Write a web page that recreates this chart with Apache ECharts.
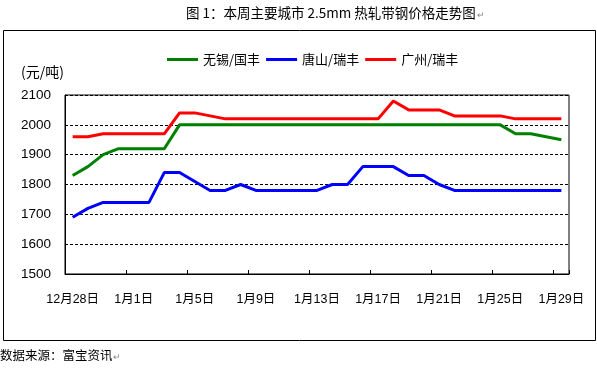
<!DOCTYPE html>
<html>
<head>
<meta charset="utf-8">
<script src="https://cdn.jsdelivr.net/npm/echarts@6/dist/echarts.min.js"></script>
<style>
html,body{margin:0;padding:0;background:#fff;}
#c{width:597px;height:368px;}
</style>
</head>
<body>
<div id="c"></div>
<script>
const categories = ['12月28日','12月29日','12月30日','12月31日','1月1日','1月2日','1月3日','1月4日','1月5日','1月6日','1月7日','1月8日','1月9日','1月10日','1月11日','1月12日','1月13日','1月14日','1月15日','1月16日','1月17日','1月18日','1月19日','1月20日','1月21日','1月22日','1月23日','1月24日','1月25日','1月26日','1月27日','1月28日','1月29日'];
const wuxi = [1830,1860,1900,1920,1920,1920,1920,2000,2000,2000,2000,2000,2000,2000,2000,2000,2000,2000,2000,2000,2000,2000,2000,2000,2000,2000,2000,2000,2000,1970,1970,1960,1950];
const tangshan = [1690,1720,1740,1740,1740,1740,1840,1840,1810,1780,1780,1800,1780,1780,1780,1780,1780,1800,1800,1860,1860,1860,1830,1830,1800,1780,1780,1780,1780,1780,1780,1780,1780];
const guangzhou = [1960,1960,1970,1970,1970,1970,1970,2040,2040,2030,2020,2020,2020,2020,2020,2020,2020,2020,2020,2020,2020,2080,2050,2050,2050,2030,2030,2030,2030,2020,2020,2020,2020];
const seriesNames = ['无锡/国丰','唐山/瑞丰','广州/瑞丰'];
const yTicks = {min:1500, max:2100, interval:100};

const FONT = '"Liberation Sans", Arial, "Noto Sans CJK SC", sans-serif';
const CJK = '"Noto Sans CJK SC", "Liberation Sans", sans-serif';

const chart = echarts.init(document.getElementById('c'), null, {renderer:'canvas'});
chart.setOption({
  animation:false,
  backgroundColor:'#fff',
  graphic:[
    {type:'rect', shape:{x:3.5,y:30.5,width:592,height:310}, style:{fill:'none',stroke:'#000',lineWidth:1}, silent:true},
    {type:'text', left:186, top:6, style:{text:'图 1：本周主要城市 2.5mm 热轧带钢价格走势图', font:'13.5px '+CJK, fill:'#000'}},
    {type:'text', left:477, top:10, style:{text:'↵', font:'9px '+CJK, fill:'#888'}},
    {type:'text', left:21, top:65, style:{text:'(元/吨)', font:'14px '+CJK, fill:'#000'}},
    {type:'text', left:0, top:349, style:{text:'数据来源：富宝资讯', font:'12.5px '+CJK, fill:'#000'}},
    {type:'text', left:113, top:352, style:{text:'↵', font:'9px '+CJK, fill:'#888'}}
  ],
  legend:{
    data:seriesNames,
    left:162, top:48,
    itemWidth:31, itemHeight:3, itemGap:6,
    icon:'rect',
    textStyle:{fontSize:13, fontFamily:CJK, color:'#000'}
  },
  grid:{left:65, right:28, top:95, bottom:94, show:true, borderColor:'#000', borderWidth:1, containLabel:false},
  xAxis:{
    type:'category', data:categories, boundaryGap:true,
    axisLine:{lineStyle:{color:'#000', width:1}},
    axisTick:{show:true, inside:true, length:4, interval:3, lineStyle:{color:'#000'}},
    axisLabel:{interval:3, fontSize:12.5, fontFamily:FONT, color:'#000', margin:19}
  },
  yAxis:{
    type:'value', min:yTicks.min, max:yTicks.max, interval:yTicks.interval,
    axisLine:{show:true, lineStyle:{color:'#000'}},
    axisTick:{show:false},
    axisLabel:{fontSize:13.5, fontFamily:FONT, color:'#000', margin:14, formatter:function(v){return String(v);}},
    splitLine:{show:true, lineStyle:{color:'#000', type:[3,2], width:1}}
  },
  series:[
    {name:seriesNames[0], type:'line', data:wuxi, symbol:'none', lineStyle:{width:3, color:'#008000'}, itemStyle:{color:'#008000'}},
    {name:seriesNames[1], type:'line', data:tangshan, symbol:'none', lineStyle:{width:3, color:'#0000ff'}, itemStyle:{color:'#0000ff'}},
    {name:seriesNames[2], type:'line', data:guangzhou, symbol:'none', lineStyle:{width:3, color:'#ff0000'}, itemStyle:{color:'#ff0000'}}
  ]
});
</script>
</body>
</html>
